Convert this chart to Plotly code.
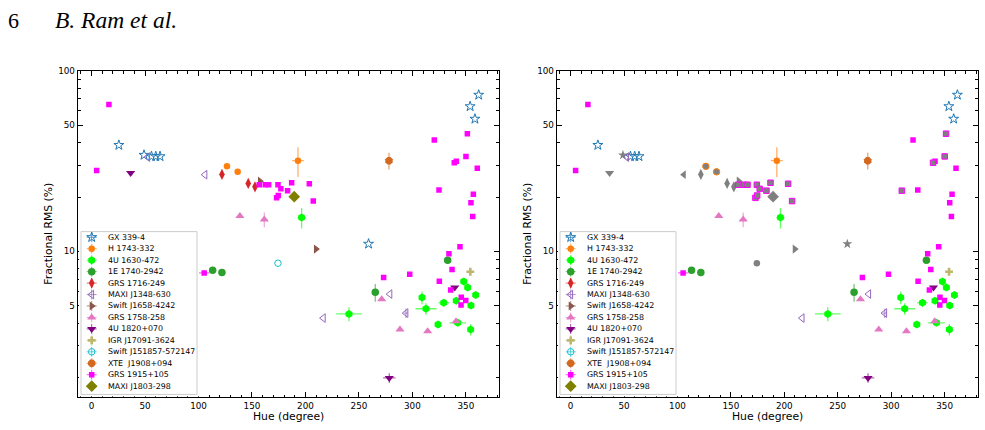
import math
import plotly.graph_objects as go

W, H = 985, 430

# ---------------- data (hue in degrees, fractional rms in %) ----------------
GX339_x = [25.5, 49, 56, 60, 64, 259, 354, 362, 358.5]
GX339_y = [38.8, 34.2, 33.6, 33.6, 33.6, 11.0, 63.6, 73.6, 54.2]
GX339_xerr = [0, 0, 0, 0, 0, 0, 0, 0, 0]
GX339_yerr = [0, 0, 0, 0, 0, 0, 0, 0, 0]
GX339_gray = [0, 1, 0, 0, 0, 1, 0, 0, 0]

H1743_x = [126.6, 136.6, 193.0]
H1743_y = [29.6, 27.6, 31.8]
H1743_xerr = [0, 0, 5.6]
H1743_yerr = [0, 0, 6.0]
H1743_gray = [1, 1, 0]

U1630_x = [196.4, 240.7, 309.0, 312.7, 324.0, 329.3, 341.0, 348.0, 351.7, 359.2, 354.8, 354.5, 342.4]
U1630_y = [15.4, 4.5, 5.55, 4.81, 3.93, 5.19, 5.32, 6.8, 6.3, 5.74, 5.01, 3.69, 4.02]
U1630_xerr = [4, 12, 2.5, 9.8, 0, 4.8, 0, 0, 0, 0, 0, 0, 7.8]
U1630_yerr = [2.0, 0.4, 0.45, 0.35, 0, 0.25, 0, 0, 0, 0, 0, 0.27, 0]
U1630_gray = [0] * 13

E1740_x = [113.2, 121.9, 333.0, 265.3]
E1740_y = [7.87, 7.64, 8.93, 5.93]
E1740_xerr = [0, 0, 0, 0]
E1740_yerr = [0.3, 0, 0, 0.67]
E1740_gray = [0, 0, 0, 0]

GRS1716_x = [121.9, 146.5, 152.8]
GRS1716_y = [26.7, 23.8, 22.8]
GRS1716_xerr = [0, 0, 0]
GRS1716_yerr = [0, 0, 0]
GRS1716_gray = [1, 1, 1]

MAXI1348_x = [52.5, 106.0, 279.0, 294.0, 216.7]
MAXI1348_y = [33.3, 26.6, 5.8, 4.55, 4.27]
MAXI1348_xerr = [0, 0, 0, 2, 0]
MAXI1348_yerr = [0, 0, 0, 0.27, 0]
MAXI1348_gray = [0, 1, 0, 0, 0]

SW1658_x = [157.4, 209.8]
SW1658_y = [24.5, 10.3]
SW1658_xerr = [0, 0]
SW1658_yerr = [0, 0]
SW1658_gray = [1, 1]

GRS1758_x = [138.7, 161.5, 271.3, 288.4, 314.3, 340.8]
GRS1758_y = [15.7, 15.0, 5.43, 3.69, 3.61, 4.1]
GRS1758_xerr = [0, 3, 0, 0, 0, 0]
GRS1758_yerr = [0, 1.4, 0, 0, 0, 0]
GRS1758_gray = [0, 0, 0, 0, 0, 0]

U1820_x = [36.5, 339.6, 278.4]
U1820_y = [27.2, 6.31, 1.99]
U1820_xerr = [0, 0, 5.8]
U1820_yerr = [0, 0, 0.12]
U1820_gray = [1, 0, 0]

IGR17091_x = [25.3, 354.2]
IGR17091_y = [9.3, 7.71]
IGR17091_xerr = [0, 0]
IGR17091_yerr = [0, 0]
IGR17091_gray = [0, 0]

SW151857_x = [174.3]
SW151857_y = [8.6]
SW151857_xerr = [0]
SW151857_yerr = [0]
SW151857_gray = [1]

XTE1908_x = [278.1]
XTE1908_y = [31.8]
XTE1908_xerr = [2]
XTE1908_yerr = [3.4]
XTE1908_gray = [0]

GRS1915_x = [16.2, 4.7, 105.3, 59.2, 156.8, 162.4, 165.6, 174.3, 177.0, 173.0, 174.6, 183.3,
             187.1, 203.6, 207.3, 320.5, 351.4, 350.1, 339.2, 341.1, 360.7, 324.9, 357.0, 354.8,
             356.4, 344.5, 334.2, 273.1, 297.5, 325.2, 337.1, 335.8, 345.7, 349.9, 345.5]
GRS1915_y = [65.2, 28.1, 7.6, 7.03, 23.4, 23.4, 23.4, 23.4, 22.2, 19.8, 20.4, 21.7,
             24.0, 23.7, 19.0, 41.4, 44.9, 33.6, 31.0, 31.6, 28.9, 21.9, 20.7, 18.6,
             15.6, 10.6, 9.7, 7.17, 7.48, 6.82, 7.93, 6.11, 5.57, 5.34, 5.04]
GRS1915_xerr = [0, 0, 5] + [0] * 32
GRS1915_yerr = [0] * 35
GRS1915_gray = [0, 0, 0, 0, 1, 1, 1, 1, 1, 1, 1, 1,
                1, 1, 1, 0, 1, 1, 1, 0, 0, 0, 0, 0,
                0, 0, 0, 0, 0, 0, 0, 0, 0, 0, 0]
# point shown only in the right-hand panel
GRS1915_right_x = [310.0]
GRS1915_right_y = [21.7]

MAXI1803_x = [189.5]
MAXI1803_y = [20.1]
MAXI1803_xerr = [0]
MAXI1803_yerr = [0]
MAXI1803_gray = [1]

NAMES = ["GX 339-4", "H 1743-332", "4U 1630-472", "1E 1740-2942", "GRS 1716-249",
         "MAXI J1348-630", "Swift J1658-4242", "GRS 1758-258", "4U 1820+070",
         "IGR J17091-3624", "Swift J151857-572147", "XTE  J1908+094", "GRS 1915+105",
         "MAXI J1803-298"]

SOURCES = [
    (GX339_x, GX339_y, GX339_xerr, GX339_yerr, GX339_gray),
    (H1743_x, H1743_y, H1743_xerr, H1743_yerr, H1743_gray),
    (U1630_x, U1630_y, U1630_xerr, U1630_yerr, U1630_gray),
    (E1740_x, E1740_y, E1740_xerr, E1740_yerr, E1740_gray),
    (GRS1716_x, GRS1716_y, GRS1716_xerr, GRS1716_yerr, GRS1716_gray),
    (MAXI1348_x, MAXI1348_y, MAXI1348_xerr, MAXI1348_yerr, MAXI1348_gray),
    (SW1658_x, SW1658_y, SW1658_xerr, SW1658_yerr, SW1658_gray),
    (GRS1758_x, GRS1758_y, GRS1758_xerr, GRS1758_yerr, GRS1758_gray),
    (U1820_x, U1820_y, U1820_xerr, U1820_yerr, U1820_gray),
    (IGR17091_x, IGR17091_y, IGR17091_xerr, IGR17091_yerr, IGR17091_gray),
    (SW151857_x, SW151857_y, SW151857_xerr, SW151857_yerr, SW151857_gray),
    (XTE1908_x, XTE1908_y, XTE1908_xerr, XTE1908_yerr, XTE1908_gray),
    (GRS1915_x, GRS1915_y, GRS1915_xerr, GRS1915_yerr, GRS1915_gray),
    (MAXI1803_x, MAXI1803_y, MAXI1803_xerr, MAXI1803_yerr, MAXI1803_gray),
]

X_TICKS = [0, 50, 100, 150, 200, 250, 300, 350]
Y_TICKS = [5, 10, 50, 100]
Y_MINOR = [2, 3, 4, 6, 7, 8, 9, 20, 30, 40, 60, 70, 80, 90]

# ---------------- styles ----------------
STYLES = [
    dict(symbol="star-open", color="#1f77b4", size=7.5),
    dict(symbol="circle", color="#ff7f0e", size=6.5),
    dict(symbol="hexagon", color="#00ff00", size=8),
    dict(symbol="circle", color="#2ca02c", size=7.5),
    dict(symbol="diamond-tall", color="#d62728", size=8),
    dict(symbol="triangle-left-open", color="#9467bd", size=7.5),
    dict(symbol="triangle-right", color="#8c564b", size=8),
    dict(symbol="triangle-up", color="#e377c2", size=8),
    dict(symbol="triangle-down", color="#800080", size=8),
    dict(symbol="cross", color="#bdb76b", size=6.5),
    dict(symbol="circle-open", color="#17becf", size=6.5),
    dict(symbol="octagon", color="#d2691e", size=8),
    dict(symbol="square", color="#ff00ff", size=5.5),
    dict(symbol="diamond", color="#808000", size=9),
]
GRAY = "#808080"
KEEP_EDGE = {1, 12}  # gray points keep coloured edge (circles / squares)


def rgba(hexc, a):
    hexc = hexc.lstrip("#")
    r, g, b = int(hexc[0:2], 16), int(hexc[2:4], 16), int(hexc[4:6], 16)
    return f"rgba({r},{g},{b},{a})"


# pixel geometry of the two panels
PANEL_X = [(77.7, 499.0), (556.7, 977.7)]
PANEL_TOP, PANEL_BOT = 66.7, 397.0


def fx(px):
    return px / W


def fy(py):
    return 1 - py / H


fig = go.Figure()


def add_points(idx, xs, ys, xe, ye, axis, gray=False):
    st = STYLES[idx]
    col = st["color"]
    sym = st["symbol"]
    if gray:
        sym = sym.replace("-open", "")
        line = dict(color=col if idx in KEEP_EDGE else GRAY, width=1 if idx in KEEP_EDGE else 0)
        mcol = GRAY
    else:
        line = dict(color=col, width=1 if sym.endswith("-open") else 0)
        mcol = col
    fig.add_trace(go.Scatter(
        x=xs, y=ys, mode="markers", xaxis=axis[0], yaxis=axis[1], showlegend=False,
        marker=dict(symbol=sym, color=mcol, size=st["size"], line=line),
        error_x=dict(type="data", array=xe, visible=True, color=rgba(col, 0.6), thickness=1.3, width=0),
        error_y=dict(type="data", array=ye, visible=True, color=rgba(col, 0.6), thickness=1.3, width=0),
        hoverinfo="skip",
    ))


# left panel: all coloured
for i, (xs, ys, xe, ye, gr) in enumerate(SOURCES):
    add_points(i, xs, ys, xe, ye, ("x", "y"))

# right panel: selected points in gray
for i, (xs, ys, xe, ye, gr) in enumerate(SOURCES):
    sel_c = [k for k in range(len(xs)) if not gr[k]]
    sel_g = [k for k in range(len(xs)) if gr[k]]
    if sel_c:
        add_points(i, [xs[k] for k in sel_c], [ys[k] for k in sel_c],
                   [xe[k] for k in sel_c], [ye[k] for k in sel_c], ("x2", "y2"))
    gx = [xs[k] for k in sel_g]
    gy = [ys[k] for k in sel_g]
    gxe = [xe[k] for k in sel_g]
    gye = [ye[k] for k in sel_g]
    if i == 12:
        gx += GRS1915_right_x
        gy += GRS1915_right_y
        gxe += [0] * len(GRS1915_right_x)
        gye += [0] * len(GRS1915_right_y)
    if gx:
        add_points(i, gx, gy, gxe, gye, ("x2", "y2"), gray=True)

# ---------------- legends (drawn on overlay axes, pixel units) ----------------
LEG_W, LEG_H = 116.0, 164.7
LEG_OFF_X, LEG_TOP = 3.3, 229.3
ROW0, ROW_H = 5.7, 11.59
MK_X, TXT_X = 10.7, 24.5

annotations = []
for p, (x0, x1) in enumerate(PANEL_X):
    xa, ya = f"x{3 + p}", f"y{3 + p}"
    fig.add_trace(go.Scatter(
        x=[0, LEG_W, LEG_W, 0, 0], y=[0, 0, LEG_H, LEG_H, 0], mode="lines",
        fill="toself", fillcolor="rgba(255,255,255,0.8)",
        line=dict(color="#cccccc", width=1), xaxis=xa, yaxis=ya,
        showlegend=False, hoverinfo="skip"))
    for i, name in enumerate(NAMES):
        st = STYLES[i]
        yy = ROW0 + ROW_H * i
        fig.add_trace(go.Scatter(
            x=[MK_X], y=[yy], mode="markers", xaxis=xa, yaxis=ya, showlegend=False,
            marker=dict(symbol=st["symbol"], color=st["color"], size=st["size"],
                        line=dict(color=st["color"], width=1 if st["symbol"].endswith("-open") else 0)),
            error_x=dict(type="data", array=[5], visible=True, color=rgba(st["color"], 0.7), thickness=1, width=0),
            error_y=dict(type="data", array=[5], visible=True, color=rgba(st["color"], 0.7), thickness=1, width=0),
            hoverinfo="skip"))
        annotations.append(dict(
            x=TXT_X, y=yy, xref=xa, yref=ya, text=name, showarrow=False,
            xanchor="left", yanchor="middle",
            font=dict(family="DejaVu Sans", size=7.9, color="black")))

# ---------------- axes ----------------
TICKFONT = dict(family="DejaVu Sans", size=8.8, color="black")


def xaxis(dom, anchor):
    return dict(domain=dom, anchor=anchor, range=[-13, 381], showline=True, linecolor="black",
                linewidth=1, mirror="allticks", ticks="inside", ticklen=5, tickwidth=1,
                tickcolor="black", tickmode="array", tickvals=X_TICKS,
                ticktext=[str(v) for v in X_TICKS], tickfont=TICKFONT, showgrid=False,
                zeroline=False,
                minor=dict(ticks="inside", ticklen=2.8, tickwidth=1, tickcolor="black",
                           tick0=0, dtick=10, showgrid=False))


def yaxis(anchor):
    return dict(domain=[fy(PANEL_BOT), fy(PANEL_TOP)], anchor=anchor, type="log",
                range=[math.log10(1.552), 2], showline=True, linecolor="black", linewidth=1,
                mirror="allticks", ticks="inside", ticklen=5, tickwidth=1, tickcolor="black",
                tickmode="array", tickvals=Y_TICKS, ticktext=[str(v) for v in Y_TICKS],
                tickfont=TICKFONT, showgrid=False, zeroline=False,
                minor=dict(ticks="inside", ticklen=2.8, tickwidth=1, tickcolor="black",
                           tickmode="array", tickvals=Y_MINOR, showgrid=False))


def legaxes(p):
    x0 = PANEL_X[p][0] + LEG_OFF_X
    pad = 2
    xd = [fx(x0 - pad), fx(x0 + LEG_W + pad)]
    yd = [fy(LEG_TOP + LEG_H + pad), fy(LEG_TOP - pad)]
    xa = dict(domain=xd, range=[-pad, LEG_W + pad], visible=False, fixedrange=True,
              anchor=f"y{3 + p}")
    ya = dict(domain=yd, range=[LEG_H + pad, -pad], visible=False, fixedrange=True,
              anchor=f"x{3 + p}")
    return xa, ya


lx3, ly3 = legaxes(0)
lx4, ly4 = legaxes(1)

TITLEFONT = dict(family="DejaVu Sans", size=10.8, color="black")
for (x0, x1) in PANEL_X:
    annotations.append(dict(x=fx((x0 + x1) / 2), y=fy(416.5), xref="paper", yref="paper",
                            text="Hue (degree)", showarrow=False, xanchor="center",
                            yanchor="middle", font=TITLEFONT))
    annotations.append(dict(x=fx(x0 - 29.2), y=fy((PANEL_TOP + PANEL_BOT) / 2), xref="paper",
                            yref="paper", text="Fractional RMS (%)", showarrow=False,
                            textangle=-90, xanchor="center", yanchor="middle", font=TITLEFONT))

# page header
annotations.append(dict(x=fx(5.5), y=fy(15.5), xref="paper", yref="paper", text="6",
                        showarrow=False, xanchor="left", yanchor="middle",
                        font=dict(family="Liberation Serif", size=22, color="black")))
annotations.append(dict(x=fx(53), y=fy(15.5), xref="paper", yref="paper",
                        text="<i>B. Ram et al.</i>", showarrow=False, xanchor="left",
                        yanchor="middle",
                        font=dict(family="Liberation Serif", size=23.5, color="black")))

fig.update_layout(
    width=W, height=H, margin=dict(l=0, r=0, t=0, b=0),
    paper_bgcolor="white", plot_bgcolor="white", showlegend=False,
    xaxis=xaxis([fx(PANEL_X[0][0]), fx(PANEL_X[0][1])], "y"),
    yaxis=yaxis("x"),
    xaxis2=xaxis([fx(PANEL_X[1][0]), fx(PANEL_X[1][1])], "y2"),
    yaxis2=yaxis("x2"),
    xaxis3=lx3, yaxis3=ly3, xaxis4=lx4, yaxis4=ly4,
    annotations=annotations,
)

fig.write_html("out.html")
